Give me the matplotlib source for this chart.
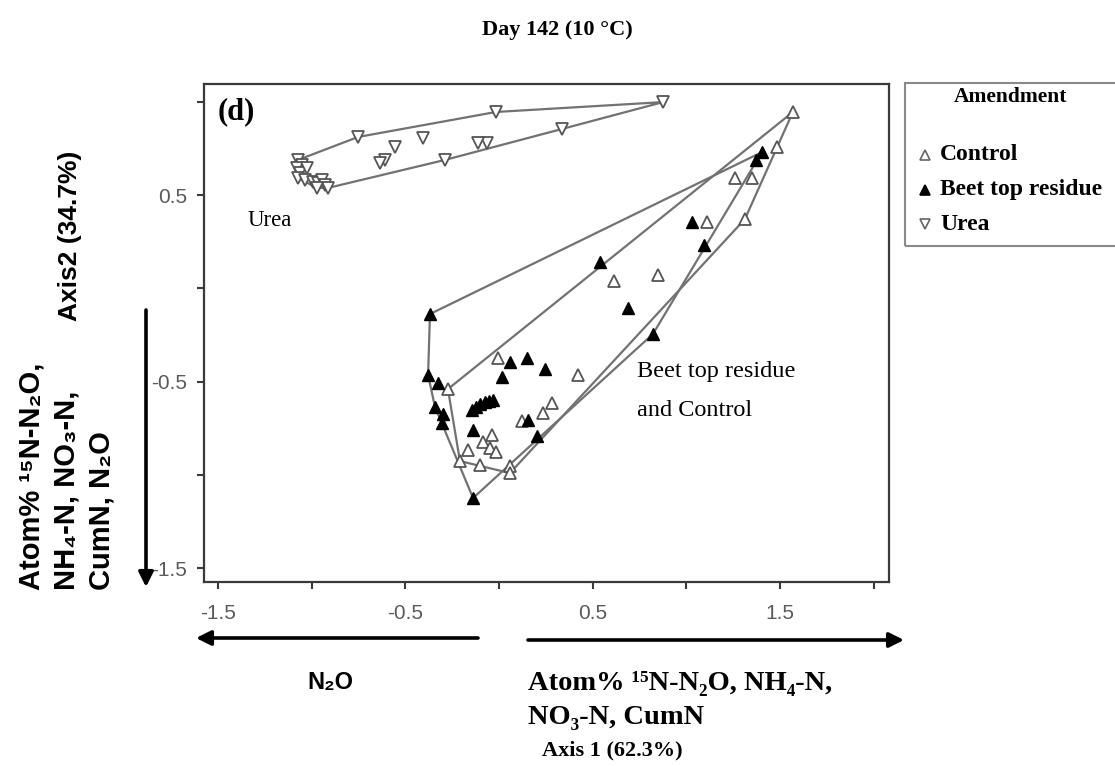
import numpy as np
import matplotlib
matplotlib.use('Agg')
import matplotlib.pyplot as plt
from matplotlib.lines import Line2D
from matplotlib.patches import Rectangle, FancyArrowPatch

# ---------------- data ----------------
groups = ['Control', 'Beet top residue', 'Urea']

control_x = [1.568, 1.483, 1.259, 1.350, 1.312, 1.109, 0.848, 0.613, -0.006, 0.421,
             -0.273, 0.282, 0.234, 0.122, -0.038, -0.086, -0.166, -0.049, -0.017,
             -0.209, -0.102, 0.058, 0.058]
control_y = [0.945, 0.757, 0.591, 0.591, 0.371, 0.355, 0.071, 0.039, -0.374, -0.465,
             -0.540, -0.615, -0.668, -0.711, -0.786, -0.824, -0.867, -0.856, -0.877,
             -0.926, -0.947, -0.952, -0.990]

beet_x = [1.403, 1.371, 1.029, 1.093, 0.538, 0.688, 0.821, -0.369, -0.379, -0.326,
          -0.342, -0.299, -0.305, 0.058, 0.149, 0.245, 0.015, -0.145, -0.123, -0.102,
          -0.075, -0.054, -0.033, -0.139, 0.154, 0.202, -0.139]
beet_y = [0.730, 0.688, 0.355, 0.232, 0.141, -0.106, -0.245, -0.138, -0.465, -0.508,
          -0.636, -0.674, -0.722, -0.395, -0.374, -0.432, -0.475, -0.652, -0.636, -0.620,
          -0.609, -0.604, -0.599, -0.759, -0.706, -0.792, -1.124]

urea_x = [0.875, -0.017, 0.336, -0.065, -0.113, -0.406, -0.555, -0.753, -0.289, -0.609,
          -0.636, -1.073, -1.052, -1.078, -1.062, -1.025, -1.073, -1.036, -0.993, -0.966,
          -0.945, -0.929, -0.913, -0.972]
urea_y = [0.998, 0.945, 0.854, 0.779, 0.779, 0.805, 0.757, 0.811, 0.688, 0.688,
          0.671, 0.688, 0.661, 0.645, 0.618, 0.645, 0.591, 0.580, 0.570, 0.564,
          0.580, 0.554, 0.538, 0.538]

x_ticks = [-1.5, -1.0, -0.5, 0.0, 0.5, 1.0, 1.5, 2.0]
x_tick_labels = ['-1.5', '', '-0.5', '', '0.5', '', '1.5', '']
y_ticks = [-1.5, -1.0, -0.5, 0.0, 0.5, 1.0]
y_tick_labels = ['-1.5', '', '-0.5', '', '0.5', '']


def convex_hull(x, y):
    pts = sorted(set(zip(x, y)))

    def cross(o, a, b):
        return (a[0] - o[0]) * (b[1] - o[1]) - (a[1] - o[1]) * (b[0] - o[0])

    lower = []
    for p in pts:
        while len(lower) >= 2 and cross(lower[-2], lower[-1], p) <= 0:
            lower.pop()
        lower.append(p)
    upper = []
    for p in reversed(pts):
        while len(upper) >= 2 and cross(upper[-2], upper[-1], p) <= 0:
            upper.pop()
        upper.append(p)
    hull = lower[:-1] + upper[:-1]
    hull.append(hull[0])
    return np.array(hull)


W, H = 1115, 766
fig = plt.figure(figsize=(W / 100, H / 100), dpi=100)


def fx(px):
    return px / W


def fy(py):
    return 1 - py / H


SERIF = ['Liberation Serif', 'DejaVu Serif']
SANS = ['Liberation Sans', 'DejaVu Sans']

ax = fig.add_axes([fx(204), fy(582), fx(889) - fx(204), fy(84) - fy(582)])
ax.set_xlim(-1.575, 2.081)
ax.set_ylim(-1.574, 1.095)

line_col = '#727272'
for xs, ys in [(control_x, control_y), (beet_x, beet_y), (urea_x, urea_y)]:
    h = convex_hull(xs, ys)
    ax.plot(h[:, 0], h[:, 1], color=line_col, lw=1.6, zorder=1)

ms = 8.3
ax.plot(control_x, control_y, ls='none', marker='^', ms=ms, mfc='white',
        mec='#555555', mew=1.3, zorder=3)
ax.plot(beet_x, beet_y, ls='none', marker='^', ms=ms, mfc='black',
        mec='black', mew=1.0, zorder=3)
ax.plot(urea_x, urea_y, ls='none', marker='v', ms=ms, mfc='white',
        mec='#555555', mew=1.3, zorder=3)

for s in ax.spines.values():
    s.set_color('#3a3a3a')
    s.set_linewidth(1.6)
ax.set_xticks(x_ticks)
ax.set_xticklabels(x_tick_labels)
ax.set_yticks(y_ticks)
ax.set_yticklabels(y_tick_labels)
ax.tick_params(direction='out', length=5, width=1.5, color='#3a3a3a',
               labelsize=15, labelcolor='#5a5a5a')
ax.tick_params(axis='x', pad=11)
ax.tick_params(axis='y', pad=7)
for lab in ax.get_xticklabels() + ax.get_yticklabels():
    lab.set_family(SANS)

# in-plot annotations
fig.text(fx(218), fy(112), '(d)', family=SERIF, weight='bold', fontsize=22,
         ha='left', va='center')
fig.text(fx(248), fy(221), 'Urea', family=SERIF, fontsize=16.5, ha='left', va='center')
fig.text(fx(637), fy(372), 'Beet top residue', family=SERIF, fontsize=17.5,
         ha='left', va='center')
fig.text(fx(637), fy(411), 'and Control', family=SERIF, fontsize=17.5,
         ha='left', va='center')

# title
fig.text(fx(557), fy(30), 'Day 142 (10 \u00b0C)', family=SERIF, weight='bold',
         fontsize=16, ha='center', va='center')

# legend (manual box)
leg_box = Rectangle((fx(905), fy(246)), fx(1125) - fx(905), fy(83) - fy(246),
                    transform=fig.transFigure, fill=False, edgecolor='#8a8a8a',
                    lw=1.5, clip_on=False)
fig.add_artist(leg_box)
fig.text(fx(1010), fy(97), 'Amendment', family=SERIF, weight='bold', fontsize=15.5,
         ha='center', va='center')
leg_style = [dict(marker='^', mfc='white', mec='#666666'),
             dict(marker='^', mfc='black', mec='black'),
             dict(marker='v', mfc='white', mec='#666666')]
for i, (g, st) in enumerate(zip(groups, leg_style)):
    yy = [155, 190, 224][i]
    fig.add_artist(Line2D([fx(925)], [fy(yy)], transform=fig.transFigure, ls='none',
                          ms=7.5, mew=1.2, **st))
    fig.text(fx(940), fy(yy), g, family=SERIF, weight='bold', fontsize=17,
             ha='left', va='center')

# axis titles / arrows
fig.text(fx(70), fy(236), 'Axis2 (34.7%)', family=SANS, weight='bold', fontsize=19,
         rotation=90, ha='center', va='center')
fig.text(fx(17), fy(590),
         'Atom% \u00b9\u2075N-N\u2082O,\nNH\u2084-N, NO\u2083-N,\nCumN, N\u2082O',
         family=SANS, weight='bold', fontsize=21, rotation=90, ha='left', va='bottom',
         multialignment='left', linespacing=1.32)

arr_kw = dict(arrowstyle='-|>', mutation_scale=22, lw=2.6, color='black',
              transform=fig.transFigure, shrinkA=0, shrinkB=0, zorder=5)
fig.add_artist(FancyArrowPatch((fx(146), fy(310)), (fx(146), fy(587)), **arr_kw))
fig.add_artist(FancyArrowPatch((fx(478), fy(638)), (fx(196), fy(638)), **arr_kw))
fig.add_artist(FancyArrowPatch((fx(528), fy(640)), (fx(904), fy(640)), **arr_kw))

fig.text(fx(330), fy(683), 'N\u2082O', family=SANS, weight='bold', fontsize=17,
         ha='center', va='center')
fig.text(fx(528), fy(684), 'Atom% \u00b9\u2075N-N\u2082O, NH\u2084-N,',
         family=SERIF, weight='bold', fontsize=20.5, ha='left', va='center')
fig.text(fx(528), fy(718), 'NO\u2083-N, CumN',
         family=SERIF, weight='bold', fontsize=20.5, ha='left', va='center')
fig.text(fx(612), fy(750), 'Axis 1 (62.3%)', family=SERIF, weight='bold', fontsize=16,
         ha='center', va='center')

fig.savefig('out.png', dpi=100)
